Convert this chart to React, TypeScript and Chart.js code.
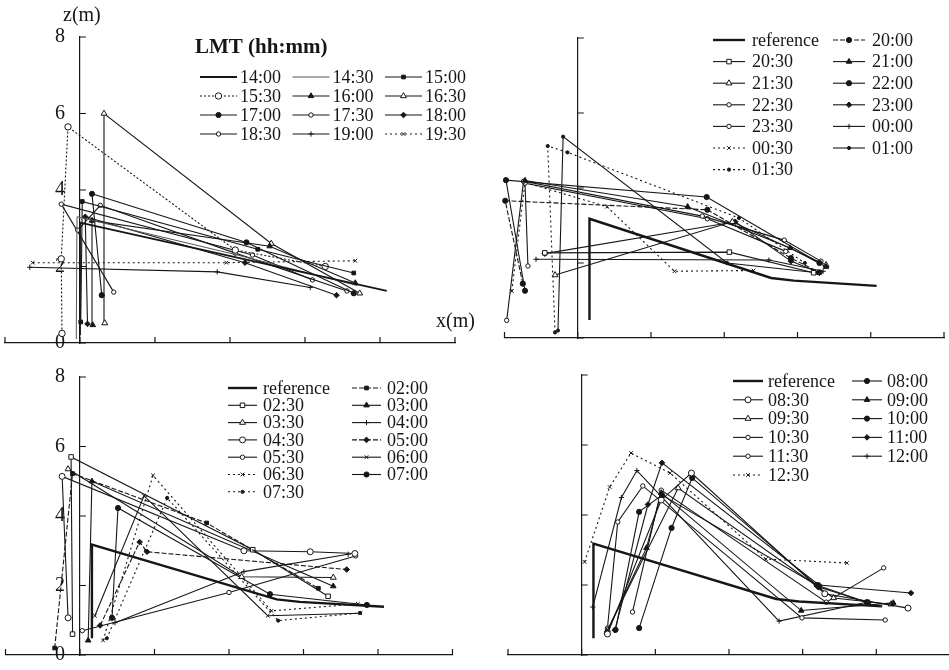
import React, { useEffect, useRef } from 'react';
import { Chart, registerables } from 'chart.js';
import { drawPoint } from 'chart.js/helpers';

Chart.register(...registerables);

type Pt = [number, number];

// ---- axis ranges (x in grid units, z in metres) ----
const xRange: Pt = [-1, 5];
const zRange: Pt = [0, 8];
const zStep = 2;

// ---- shared reference profile ----
const referenceProfile: Pt[] = [[0.16, 0.48], [0.16, 3.18], [2.64, 1.6], [2.95, 1.53], [4.08, 1.39]];

// ---- 14:00 – 19:30 ----
const afternoonTimes = ['14:00', '14:30', '15:00', '15:30', '16:00', '16:30', '17:00', '17:30', '18:00', '18:30', '19:00', '19:30'];
const afternoonProfiles: Pt[][] = [
  [[0.0, 0.2], [0.0, 3.15], [4.09, 1.36]],
  [[-0.05, 0.1], [-0.04, 3.3], [2.1, 2.3], [3.7, 1.5]],
  [[0.01, 0.55], [0.03, 3.7], [2.37, 2.45], [3.65, 1.83]],
  [[-0.24, 0.25], [-0.25, 2.2], [-0.16, 5.65], [2.07, 2.43], [3.27, 2.0]],
  [[0.17, 0.47], [0.16, 3.2], [2.53, 2.53], [3.67, 1.57]],
  [[0.33, 0.52], [0.32, 6.0], [2.55, 2.6], [3.73, 1.3]],
  [[0.29, 1.25], [0.16, 3.9], [2.22, 2.63], [3.65, 1.3]],
  [[-0.03, 2.95], [0.27, 3.6], [2.07, 2.35], [3.56, 1.36]],
  [[0.1, 0.5], [0.07, 3.3], [2.2, 2.1], [3.42, 1.25]],
  [[0.45, 1.33], [-0.25, 3.63], [2.3, 2.3], [3.1, 1.65]],
  [[-0.67, 1.98], [1.83, 1.86], [3.07, 1.45]],
  [[-0.63, 2.1], [1.95, 2.1], [3.67, 2.15]],
];
const afternoonMarks = ['thick', 'plain', 'fSquare', 'oCircleDot', 'fTri', 'oTri', 'fCircle', 'oSmall', 'fDiamond', 'oSmall', 'cross', 'xDot'];

// ---- reference + 20:00 – 01:30 ----
const eveningTimes = ['reference', '20:00', '20:30', '21:00', '21:30', '22:00', '22:30', '23:00', '23:30', '00:00', '00:30', '01:00', '01:30'];
const eveningProfiles: Pt[][] = [
  referenceProfile,
  [[-0.75, 1.45], [-0.99, 3.66], [1.77, 3.42], [2.91, 2.13], [3.3, 1.75]],
  [[-0.45, 2.27], [2.07, 2.29], [3.22, 1.74]],
  [[-0.72, 4.2], [1.5, 3.5], [2.9, 2.4], [3.39, 1.9]],
  [[-0.31, 1.68], [2.11, 3.1], [3.39, 1.95]],
  [[-0.72, 1.26], [-0.98, 4.21], [1.76, 3.76], [3.3, 2.0]],
  [[-0.97, 0.47], [-0.74, 4.18], [1.7, 3.25], [2.82, 2.61], [3.32, 2.05]],
  [[-0.45, 2.25], [2.15, 3.1], [2.91, 2.05], [3.3, 1.74]],
  [[-0.68, 1.92], [-0.72, 4.13], [1.77, 3.18], [2.84, 2.31]],
  [[-0.57, 2.1], [2.61, 2.08], [3.35, 1.78]],
  [[-0.9, 1.25], [-0.72, 4.15], [0.4, 3.5], [1.32, 1.78], [2.4, 1.8]],
  [[-0.27, 0.2], [-0.2, 5.37], [2.04, 2.0], [3.27, 1.74]],
  [[-0.31, 0.15], [-0.41, 5.12], [-0.14, 4.95], [2.2, 3.2], [3.1, 2.0]],
];
const eveningMarks = ['ref', 'fCircleDash', 'oSquare', 'fTri', 'oTri', 'fCircle', 'oSmall', 'fDiamond', 'oSmall', 'cross', 'xDot', 'dot', 'dotDot'];

// ---- reference + 02:00 – 07:30 ----
const nightTimes = ['reference', '02:00', '02:30', '03:00', '03:30', '04:00', '04:30', '05:00', '05:30', '06:00', '06:30', '07:00', '07:30'];
const nightProfiles: Pt[][] = [
  referenceProfile,
  [[-0.34, 0.2], [-0.1, 5.22], [1.7, 3.8], [3.2, 1.92]],
  [[-0.1, 0.6], [-0.12, 5.7], [2.32, 3.03], [3.33, 1.69]],
  [[0.11, 0.42], [0.16, 5.0], [3.4, 1.98]],
  [[-0.16, 5.35], [2.17, 2.25], [3.4, 2.23]],
  [[0.47, 0.93], [2.2, 2.4], [3.6, 2.9]],
  [[-0.16, 1.07], [-0.24, 5.14], [2.2, 3.0], [3.09, 2.97], [3.69, 2.92]],
  [[0.27, 0.85], [0.8, 3.25], [0.9, 2.97], [3.58, 2.46]],
  [[0.03, 0.7], [2.0, 1.8], [3.7, 2.85]],
  [[0.2, 1.13], [0.86, 4.58], [2.52, 1.13], [3.76, 1.2]],
  [[0.31, 0.42], [0.98, 5.17], [2.57, 1.27], [3.73, 1.47]],
  [[0.43, 1.07], [0.51, 4.23], [2.55, 1.75], [3.85, 1.44]],
  [[0.36, 0.48], [1.17, 4.52], [2.66, 0.99], [3.76, 1.21]],
];
const nightMarks = ['ref', 'fSquareDash', 'oSquare', 'fTri', 'oTri', 'cross', 'oCircle', 'fDiamondDash', 'oSmall', 'x', 'xDot', 'fCircle', 'dotDot'];

// ---- reference + 08:00 – 12:30 ----
const morningTimes = ['reference', '08:00', '08:30', '09:00', '09:30', '10:00', '10:30', '11:00', '11:30', '12:00', '12:30'];
const morningProfiles: Pt[][] = [
  referenceProfile,
  [[0.46, 0.72], [0.78, 4.09], [1.09, 4.57], [3.19, 2.0], [3.89, 1.49]],
  [[0.35, 0.6], [1.08, 4.43], [1.49, 5.2], [3.3, 1.75], [4.43, 1.34]],
  [[0.34, 0.66], [0.88, 3.06], [1.08, 4.63], [2.98, 1.27], [4.23, 1.49]],
  [[0.35, 0.71], [1.31, 4.77], [3.42, 1.63], [4.2, 1.45]],
  [[0.78, 0.77], [1.22, 3.63], [1.5, 5.06], [3.22, 1.94], [3.87, 1.51]],
  [[0.69, 1.23], [1.08, 4.71], [3.32, 1.51], [4.1, 2.49]],
  [[0.45, 0.71], [0.9, 4.3], [1.09, 5.49], [3.22, 2.0], [4.47, 1.77]],
  [[0.35, 0.77], [0.49, 3.8], [0.83, 4.83], [2.99, 1.06], [4.12, 1.0]],
  [[0.15, 1.37], [0.54, 4.5], [0.75, 5.27], [2.68, 0.97], [3.9, 1.52]],
  [[0.04, 2.66], [0.38, 4.8], [0.67, 5.77], [1.2, 5.2], [2.5, 2.74], [3.6, 2.63]],
];
const morningMarks = ['ref', 'fCircle', 'oCircle', 'fTri', 'oTri', 'fCircle', 'oSmall', 'fDiamond', 'oSmall', 'cross', 'xDot'];

const INK = '#161616';
const SERIF = '"Liberation Serif", "DejaVu Serif", serif';

// line + marker look for each series kind
function markStyle(kind: string) {
  const base = {
    borderColor: INK, borderWidth: 1.1, borderDash: [] as number[],
    pointStyle: 'circle' as any, pointRadius: 0, pointBackgroundColor: INK,
    pointBorderColor: INK, pointBorderWidth: 1,
  };
  switch (kind) {
    case 'thick': return { ...base, borderWidth: 1.8 };
    case 'ref': return { ...base, borderWidth: 2.4 };
    case 'plain': return { ...base, borderColor: '#555', borderWidth: 1 };
    case 'fSquare': return { ...base, pointStyle: 'rect', pointRadius: 2.6 };
    case 'fSquareDash': return { ...base, borderDash: [5, 2], pointStyle: 'rect', pointRadius: 2.6 };
    case 'oSquare': return { ...base, pointStyle: 'rect', pointRadius: 3.2, pointBackgroundColor: '#fff' };
    case 'oCircle': return { ...base, pointRadius: 3, pointBackgroundColor: '#fff' };
    case 'oCircleDot': return { ...base, borderDash: [2, 2], pointRadius: 3.2, pointBackgroundColor: '#fff' };
    case 'fTri': return { ...base, pointStyle: 'triangle', pointRadius: 3.2 };
    case 'oTri': return { ...base, pointStyle: 'triangle', pointRadius: 3.4, pointBackgroundColor: '#fff' };
    case 'fCircle': return { ...base, pointRadius: 2.6 };
    case 'fCircleDash': return { ...base, borderDash: [5, 2], pointRadius: 2.6 };
    case 'oSmall': return { ...base, pointRadius: 2.2, pointBackgroundColor: '#fff' };
    case 'fDiamond': return { ...base, pointStyle: 'rectRot', pointRadius: 2.8 };
    case 'fDiamondDash': return { ...base, borderDash: [5, 2], pointStyle: 'rectRot', pointRadius: 2.8 };
    case 'cross': return { ...base, pointStyle: 'cross', pointRadius: 2.6 };
    case 'x': return { ...base, pointStyle: 'crossRot', pointRadius: 2.6 };
    case 'xDot': return { ...base, borderDash: [2, 3], pointStyle: 'crossRot', pointRadius: 2.6 };
    case 'dot': return { ...base, pointRadius: 1.6 };
    case 'dotDot': return { ...base, borderDash: [2, 3], pointRadius: 1.6 };
    default: return base;
  }
}

// multi-column legend drawn inside the plot
const gridLegend = {
  id: 'gridLegend',
  afterDraw(chart: any, _args: any, opts: any) {
    if (!opts || !opts.cols) return;
    const ctx = chart.ctx as CanvasRenderingContext2D;
    ctx.save();
    ctx.textBaseline = 'middle';
    ctx.textAlign = 'left';
    if (opts.title) {
      ctx.font = `bold 21px ${SERIF}`;
      ctx.fillStyle = INK;
      ctx.fillText(opts.title, opts.titleX, opts.titleY);
    }
    chart.data.datasets.forEach((ds: any, i: number) => {
      const col = i % opts.cols;
      const row = Math.floor(i / opts.cols);
      const x0 = opts.x + col * opts.colW;
      const y0 = opts.y + row * opts.rowH;
      ctx.strokeStyle = ds.borderColor;
      ctx.lineWidth = ds.borderWidth;
      ctx.setLineDash(ds.borderDash || []);
      ctx.beginPath();
      ctx.moveTo(x0, y0);
      ctx.lineTo(x0 + opts.sampleW, y0);
      ctx.stroke();
      ctx.setLineDash([]);
      if (ds.pointRadius > 0) {
        ctx.fillStyle = ds.pointBackgroundColor;
        ctx.strokeStyle = ds.pointBorderColor;
        ctx.lineWidth = ds.pointBorderWidth;
        drawPoint(ctx, { pointStyle: ds.pointStyle, radius: ds.pointRadius, borderWidth: ds.pointBorderWidth, rotation: 0 } as any, x0 + opts.sampleW / 2, y0);
      }
      ctx.font = `18px ${SERIF}`;
      ctx.fillStyle = INK;
      ctx.fillText(ds.label, x0 + opts.textOff, y0 + 1);
    });
    ctx.restore();
  },
};

// short tick marks pointing into the plot
const inwardTicks = {
  id: 'inwardTicks',
  afterDatasetsDraw(chart: any) {
    const xs = chart.scales.x;
    const ys = chart.scales.y;
    const ox = xs.getPixelForValue(0);
    const oy = ys.getPixelForValue(0);
    const ctx = chart.ctx as CanvasRenderingContext2D;
    ctx.save();
    ctx.strokeStyle = INK;
    ctx.lineWidth = 1.2;
    ctx.beginPath();
    ys.ticks.forEach((t: any) => {
      const py = ys.getPixelForValue(t.value);
      ctx.moveTo(ox, py);
      ctx.lineTo(ox + 6, py);
    });
    xs.ticks.forEach((t: any) => {
      const px = xs.getPixelForValue(t.value);
      ctx.moveTo(px, oy);
      ctx.lineTo(px, oy - 6);
    });
    ctx.stroke();
    ctx.restore();
  },
};

type PanelProps = {
  times: string[];
  profiles: Pt[][];
  marks: string[];
  box: { left: number; top: number; w: number; h: number };
  pad: { left: number; right: number; top: number; bottom: number };
  showZLabels: boolean;
  legend: any;
};

function Panel({ times, profiles, marks, box, pad, showZLabels, legend }: PanelProps) {
  const ref = useRef<HTMLCanvasElement | null>(null);
  useEffect(() => {
    if (!ref.current) return;
    const datasets = profiles.map((pts, i) => ({
      label: times[i],
      data: pts.map(([x, y]) => ({ x, y })),
      showLine: true,
      tension: 0,
      clip: false as any,
      ...markStyle(marks[i]),
    }));
    const chart = new Chart(ref.current, {
      type: 'scatter',
      data: { datasets },
      options: {
        responsive: false,
        animation: false,
        events: [],
        layout: { padding: pad },
        scales: {
          x: {
            type: 'linear', min: xRange[0], max: xRange[1],
            position: { y: 0 } as any,
            grid: { display: false, drawTicks: false },
            border: { display: true, color: INK, width: 1.2 },
            ticks: { display: false, stepSize: 1 },
          },
          y: {
            type: 'linear', min: zRange[0], max: zRange[1],
            position: { x: 0 } as any,
            grid: { display: false, drawTicks: false },
            border: { display: true, color: INK, width: 1.2 },
            ticks: {
              display: showZLabels, stepSize: zStep, color: INK, font: { family: SERIF, size: 20 },
              // labels sit right-aligned on the axis line; trailing gap keeps them clear of it
              callback: (v: any) => `${v}   `,
            },
          },
        },
        plugins: {
          legend: { display: false },
          tooltip: { enabled: false },
          gridLegend: legend,
        } as any,
      },
      plugins: [inwardTicks, gridLegend],
    });
    return () => chart.destroy();
  }, []);
  return (
    <canvas
      ref={ref}
      width={box.w}
      height={box.h}
      style={{ position: 'absolute', left: box.left, top: box.top, width: box.w, height: box.h }}
    />
  );
}

const labelStyle: React.CSSProperties = {
  position: 'absolute', fontFamily: SERIF, fontSize: 20, color: INK, lineHeight: '22px', whiteSpace: 'nowrap',
};

export default function App() {
  return (
    <div style={{ position: 'fixed', left: 0, top: 0, width: 949, height: 670, overflow: 'hidden', background: '#fff' }}>
      <Panel
        times={afternoonTimes} profiles={afternoonProfiles} marks={afternoonMarks}
        box={{ left: 0, top: 0, w: 475, h: 360 }}
        pad={{ left: 5, right: 20, top: 37, bottom: 17 }}
        showZLabels
        legend={{ title: 'LMT (hh:mm)', titleX: 195, titleY: 48, x: 200, y: 77, cols: 3, colW: 92.5, rowH: 19, sampleW: 37, textOff: 40 }}
      />
      <Panel
        times={eveningTimes} profiles={eveningProfiles} marks={eveningMarks}
        box={{ left: 475, top: 0, w: 474, h: 360 }}
        pad={{ left: 29.5, right: 3.5, top: 38, bottom: 22 }}
        showZLabels={false}
        legend={{ x: 238, y: 40, cols: 2, colW: 120, rowH: 21.6, sampleW: 32, textOff: 39 }}
      />
      <Panel
        times={nightTimes} profiles={nightProfiles} marks={nightMarks}
        box={{ left: 0, top: 340, w: 475, h: 330 }}
        pad={{ left: 5.5, right: 22.5, top: 37, bottom: 13 }}
        showZLabels
        legend={{ x: 228, y: 48, cols: 2, colW: 124, rowH: 17.3, sampleW: 29, textOff: 35 }}
      />
      <Panel
        times={morningTimes} profiles={morningProfiles} marks={morningMarks}
        box={{ left: 475, top: 340, w: 480, h: 330 }}
        pad={{ left: 33, right: 3, top: 35, bottom: 15 }}
        showZLabels={false}
        legend={{ x: 258, y: 41, cols: 2, colW: 119, rowH: 18.8, sampleW: 30, textOff: 35 }}
      />
      <span style={{ ...labelStyle, left: 63, top: 3 }}>z(m)</span>
      <span style={{ ...labelStyle, left: 436, top: 309 }}>x(m)</span>
    </div>
  );
}
